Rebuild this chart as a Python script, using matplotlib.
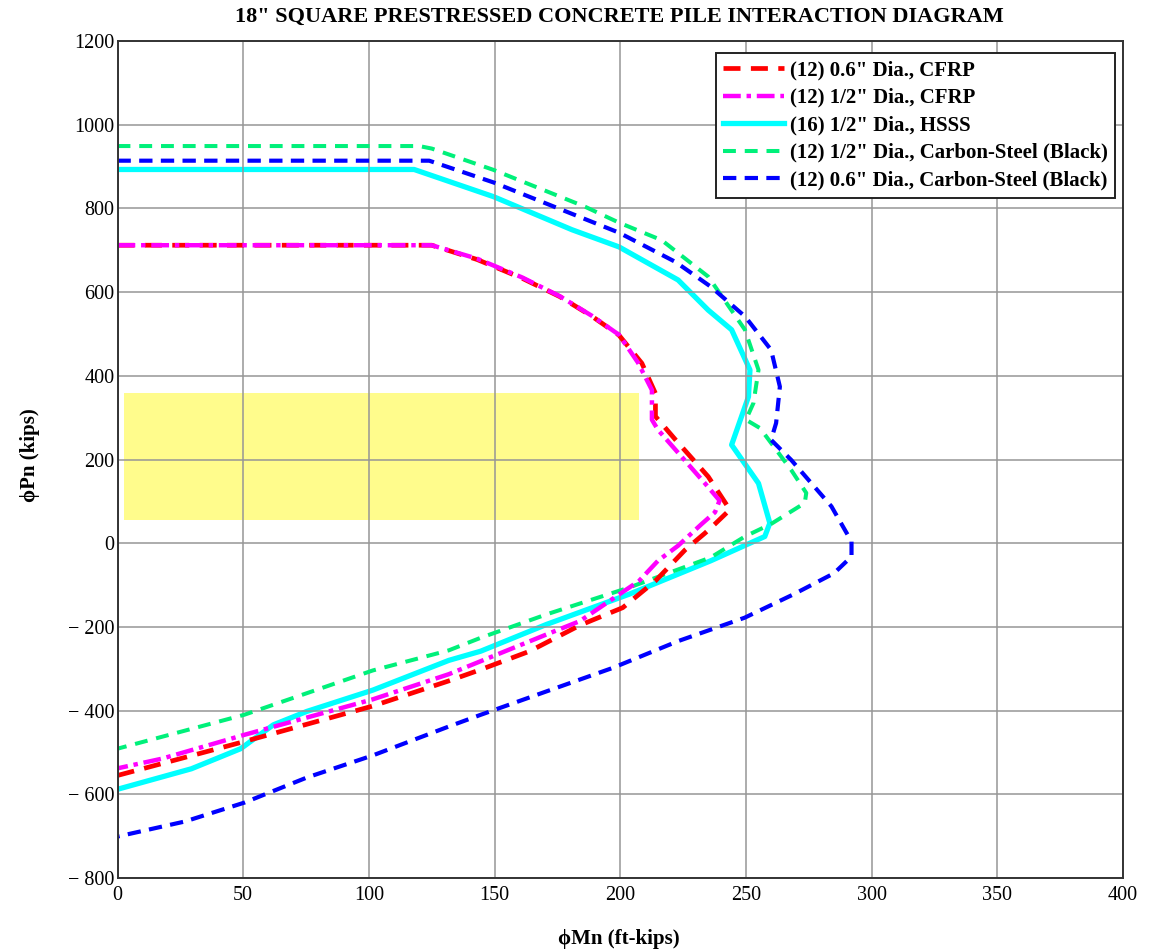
import matplotlib
matplotlib.use("Agg")
import matplotlib.pyplot as plt
from matplotlib.patches import Rectangle

# ---------------- data ----------------
red_M = [0, 125, 143, 161, 176, 188.8, 199.5, 208.6, 214, 214, 222, 235, 243.6, 237.7, 233.7, 225.8, 214, 201, 184, 164, 144.5, 131.8, 101.6, 50.4, 0]
red_P = [712, 712, 678, 633, 589, 542, 497, 430, 358, 303, 247, 159, 80, 46, 24, -16, -90, -154, -196, -258, -302, -329, -389, -474, -555]

mag_M = [0, 125, 143, 161, 176, 188.8, 199.5, 207, 212.6, 212.6, 215, 233.7, 239.5, 237.7, 232.4, 223, 215, 207.5, 184, 170.7, 151, 131.8, 101.6, 50.4, 17.6, 0]
mag_P = [712, 712, 680, 635, 590, 543, 498, 432, 366, 295, 271, 143, 102, 74, 46, -6, -42, -90, -186, -218, -266, -313, -373, -458, -515, -538]

cyan_M = [0, 118, 149.6, 180.8, 199.5, 223, 235, 244.3, 251.6, 251, 245, 244.3, 255, 259.5, 257.5, 236, 203.5, 170.7, 144.5, 131.8, 101.6, 75.3, 62, 55.6, 49, 29.4, 0]
cyan_P = [893, 893, 828, 749, 708, 629, 557, 510, 414, 350, 247, 235, 143, 48, 16, -42, -122, -194, -258, -280, -351, -402, -434, -462, -491, -539, -588]

green_M = [0, 120, 125, 149.6, 186, 199.5, 216.5, 235, 249.6, 255, 253, 250, 255.6, 268, 274, 273.4, 260, 249.6, 236, 203.5, 170.7, 144.5, 131.8, 101.6, 50.4, 0]
green_P = [949, 949, 943, 892, 804, 766, 724, 637, 510, 414, 335, 295, 275, 175, 120, 96, 46, 16, -34, -106, -170, -226, -256, -304, -410, -491]

blue_M = [0, 124, 149.6, 199.5, 222, 236, 249.6, 260, 263.5, 262, 260, 268, 284, 292, 292, 285, 269, 249.5, 223, 197, 170.7, 144.5, 131.8, 101.6, 75.3, 50.4, 26.8, 0]
blue_P = [914, 914, 862, 742, 672, 613, 542, 462, 374, 287, 247, 199, 88, 4, -32, -72, -122, -178, -234, -298, -354, -410, -438, -507, -560, -620, -665, -701]

labels = ['(12) 0.6" Dia., CFRP',
          '(12) 1/2" Dia., CFRP',
          '(16) 1/2" Dia., HSSS',
          '(12) 1/2" Dia., Carbon-Steel (Black)',
          '(12) 0.6" Dia., Carbon-Steel (Black)']

rect_M = [2.5, 207.5]
rect_P = [55, 360]

x_ticks = [0, 50, 100, 150, 200, 250, 300, 350, 400]
y_ticks = [-800, -600, -400, -200, 0, 200, 400, 600, 800, 1000, 1200]

# ---------------- figure ----------------
serif = ['Liberation Serif', 'DejaVu Serif']
plt.rcParams['font.family'] = serif

W, H = 1157, 949
fig = plt.figure(figsize=(W/100, H/100), dpi=100)
L, R, T, B = 117.5, 1123, 41, 878
ax = fig.add_axes([L/W, 1-B/H, (R-L)/W, (B-T)/H])

ax.add_patch(Rectangle((rect_M[0], rect_P[0]), rect_M[1]-rect_M[0], rect_P[1]-rect_P[0],
                       facecolor='#fffc8c', edgecolor='none', zorder=0.5))

ax.plot(red_M, red_P, color='#ff0000', lw=3.4, dashes=(3.6, 2.2), label=labels[0], zorder=3)
ax.plot(mag_M, mag_P, color='#ff00ff', lw=3.2, dashes=(4.0, 1.3, 1.0, 1.3), label=labels[1], zorder=3.2)
ax.plot(cyan_M, cyan_P, color='#00ffff', lw=3.8, label=labels[2], zorder=2.5)
ax.plot(green_M, green_P, color='#00f07a', lw=2.9, dashes=(3.2, 2.2), label=labels[3], zorder=2.7)
ax.plot(blue_M, blue_P, color='#0000ff', lw=3.0, dashes=(3.2, 2.0), label=labels[4], zorder=2.8)

ax.set_xlim(0, 400)
ax.set_ylim(-800, 1200)
ax.set_xticks(x_ticks)
ax.set_yticks(y_ticks)
ax.set_xticklabels([str(v) for v in x_ticks])
ax.set_yticklabels([('\u2212 ' + str(-v)) if v < 0 else str(v) for v in y_ticks])
ax.tick_params(length=0, labelsize=14.5)
ax.tick_params(axis='y', pad=2)
ax.tick_params(axis='x', pad=6)
ax.grid(True, color='#969696', lw=1.1, zorder=1)
ax.set_axisbelow(False)
for s in ax.spines.values():
    s.set_color('#333333')
    s.set_linewidth(1.4)
    s.set_zorder(4)

fig.text(619/W, 1-17/H, '18" SQUARE PRESTRESSED CONCRETE PILE INTERACTION DIAGRAM',
         ha='center', va='center', fontsize=16, fontweight='bold', family=serif)
fig.text(619/W, 1-939/H, '\u03d5Mn (ft-kips)', ha='center', va='center',
         fontsize=15, fontweight='bold', family=serif)
fig.text(30/W, 1-455/H, '\u03d5Pn (kips)', ha='center', va='center', rotation=90,
         fontsize=15, fontweight='bold', family=serif)

leg = ax.legend(loc='upper right', bbox_to_anchor=(1115/W, 1-53/H), bbox_transform=fig.transFigure,
                prop={'family': serif, 'weight': 'bold', 'size': 15},
                handlelength=2.9, handletextpad=0.3, labelspacing=0.36,
                borderpad=0.35, borderaxespad=0, fancybox=False, framealpha=1)
leg.get_frame().set_edgecolor('#222222')
leg.get_frame().set_linewidth(1.4)
leg.set_zorder(5)

fig.savefig('out.png', dpi=100)
